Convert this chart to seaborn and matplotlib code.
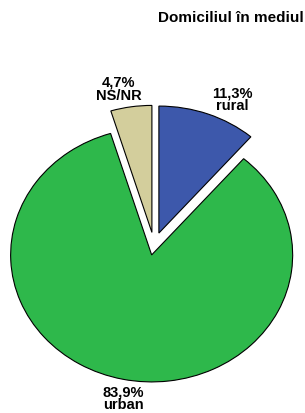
import matplotlib
matplotlib.use("Agg")
import matplotlib.pyplot as plt
import seaborn as sns

# Data
categories = ['rural', 'urban', 'NS/NR']
percentages = [11.3, 83.9, 4.7]
colors = ['#3D58AB', '#2EB84B', '#D3CE9C']
title = 'Domiciliul în mediul'

sns.set_theme(style='white')
plt.rcParams['font.family'] = ['Liberation Sans', 'DejaVu Sans']

labels = [f"{str(p).replace('.', ',')}%\n{c}" for p, c in zip(percentages, categories)]
# small nudges so labels sit where the original put them
label_nudge = [(0.113, -0.05), (0.043, 0.012), (-0.064, -0.03)]

fig = plt.figure(figsize=(3.05, 4.13), dpi=100)
ax = fig.add_axes([0, 0, 1, 1])

wedges, texts = ax.pie(percentages, labels=labels, colors=colors,
                       startangle=90, counterclock=False,
                       explode=[0.1, 0.08, 0.1], labeldistance=1.17,
                       wedgeprops={'edgecolor': 'black', 'linewidth': 0.8},
                       textprops={'fontsize': 10.5, 'fontweight': 'bold',
                                  'linespacing': 0.88, 'color': 'black'})
for t, (dx, dy) in zip(texts, label_nudge):
    x, y = t.get_position()
    t.set_position((x + dx, y + dy))
    t.set_ha('center')

ax.set_aspect('auto')
ax.set_xlim(-1.092, 1.071)
ax.set_ylim(-1.323, 1.929)
ax.axis('off')

fig.text(0.995, 0.957, title, ha='right', va='center',
         fontsize=11, fontweight='bold', color='black')

fig.savefig('out.png', dpi=100, facecolor='white')
